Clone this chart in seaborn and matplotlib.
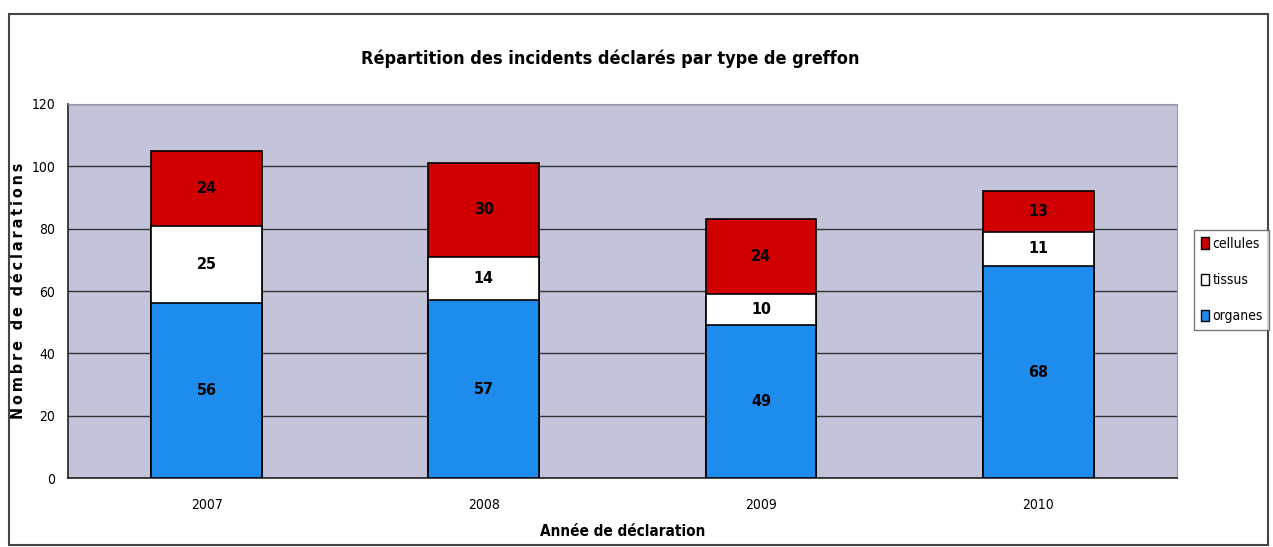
import numpy as np
import pandas as pd
import matplotlib
matplotlib.use("Agg")
import matplotlib.pyplot as plt
import seaborn as sns
from matplotlib.patches import Rectangle, Patch

annees = ["2007", "2008", "2009", "2010"]
organes = [56, 57, 49, 68]
tissus = [25, 14, 10, 11]
cellules = [24, 30, 24, 13]

sns.set_style("white")
plt.rcParams["font.family"] = ["DejaVu Sans"]
plt.rcParams["font.stretch"] = "condensed"
plt.rcParams["text.color"] = "black"
plt.rcParams["axes.labelcolor"] = "black"
plt.rcParams["xtick.color"] = "black"
plt.rcParams["ytick.color"] = "black"

df = pd.DataFrame({"annee": annees, "organes": organes, "tissus": tissus, "cellules": cellules})
df["bas_tissus"] = df["organes"]
df["bas_cellules"] = df["organes"] + df["tissus"]
df["total"] = df["bas_cellules"] + df["cellules"]

fig = plt.figure(figsize=(12.73, 5.47), dpi=100)
ax = fig.add_axes([0.0534, 0.126, 0.871, 0.684])
ax.set_facecolor("#c3c3da")

rouge = "#d00000"
bleu = "#1e8ced"

# stacked bars: draw cumulative heights back to front
sns.barplot(data=df, x="annee", y="total", color=rouge, width=0.4, edgecolor="black",
            linewidth=1.2, saturation=1, ax=ax, zorder=3)
sns.barplot(data=df, x="annee", y="bas_cellules", color="white", width=0.4, edgecolor="black",
            linewidth=1.2, saturation=1, ax=ax, zorder=3)
sns.barplot(data=df, x="annee", y="organes", color=bleu, width=0.4, edgecolor="black",
            linewidth=1.2, saturation=1, ax=ax, zorder=3)

for i, row in df.iterrows():
    ax.text(i, row["organes"] / 2, str(row["organes"]), ha="center", va="center",
            fontsize=11.5, fontweight="bold", color="black", zorder=4)
    ax.text(i, row["bas_tissus"] + row["tissus"] / 2, str(row["tissus"]), ha="center", va="center",
            fontsize=11.5, fontweight="bold", color="black", zorder=4)
    ax.text(i, row["bas_cellules"] + row["cellules"] / 2, str(row["cellules"]), ha="center",
            va="center", fontsize=11.5, fontweight="bold", color="black", zorder=4)

ax.set_ylim(0, 120)
ax.set_xlim(-0.5, 3.5)
ax.set_yticks(range(0, 121, 20))
ax.yaxis.grid(True, color="#333333", linewidth=1.0, zorder=1)
ax.set_axisbelow(True)
for s in ["top", "right"]:
    ax.spines[s].set_color("#9a9aa8")
    ax.spines[s].set_linewidth(0.8)
for s in ["left", "bottom"]:
    ax.spines[s].set_color("#222222")
    ax.spines[s].set_linewidth(1.2)

ax.tick_params(axis="y", which="major", direction="out", length=5, width=1, color="#222222",
               labelsize=10, pad=4)
ax.tick_params(axis="x", which="major", length=0, labelsize=10, pad=14)
ax.set_xticks([0.5, 1.5, 2.5], minor=True)
ax.tick_params(axis="x", which="minor", direction="out", length=5, width=1, color="#222222")

ax.set_xlabel("Année de déclaration", fontsize=11, fontweight="bold", labelpad=9)
ax.set_ylabel("\u2009".join("Nombre de déclarations"), fontsize=11.5, fontweight="bold", labelpad=4)
fig.text(0.479, 0.893, "Répartition des incidents déclarés par type de greffon",
         ha="center", va="center", fontsize=13, fontweight="bold")

handles = [Patch(facecolor=rouge, edgecolor="black", label="cellules"),
           Patch(facecolor="white", edgecolor="black", label="tissus"),
           Patch(facecolor=bleu, edgecolor="black", label="organes")]
leg = fig.legend(handles=handles, loc="center left", bbox_to_anchor=(0.938, 0.488),
                 frameon=True, fancybox=False, fontsize=10, handlelength=0.6, handleheight=0.9,
                 handletextpad=0.2, borderpad=0.5, labelspacing=1.6, borderaxespad=0)
leg.get_frame().set_edgecolor("#555555")
leg.get_frame().set_linewidth(1.0)

# outer chart frame
fig.patches.append(Rectangle((0.007, 0.004), 0.989, 0.97, transform=fig.transFigure,
                             fill=False, edgecolor="#444444", linewidth=1.5))

fig.savefig("out.png", dpi=100)
